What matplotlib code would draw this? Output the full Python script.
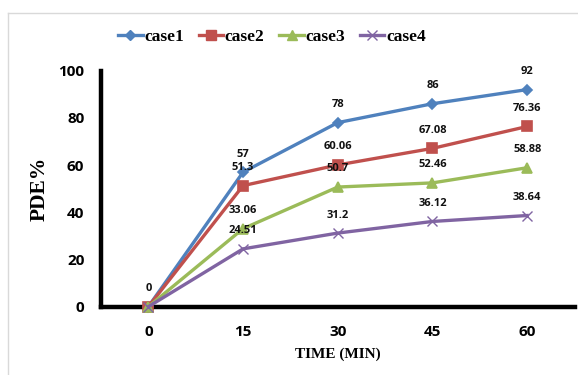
import matplotlib
matplotlib.use("Agg")
import matplotlib.pyplot as plt
from matplotlib.lines import Line2D

times = ["0", "15", "30", "45", "60"]
case1 = [0, 57, 78, 86, 92]
case2 = [0, 51.3, 60.06, 67.08, 76.36]
case3 = [0, 33.06, 50.7, 52.46, 58.88]
case4 = [0, 24.51, 31.2, 36.12, 38.64]
series_names = ["case1", "case2", "case3", "case4"]
yticks = [0, 20, 40, 60, 80, 100]

colors = ["#4F81BD", "#C0504D", "#9BBB59", "#8064A2"]
markers = ["D", "s", "^", "x"]
msizes = [5, 7, 7, 7]
SANS = "Open Sans"

fig = plt.figure(figsize=(5.78, 3.75), dpi=100)
ax = fig.add_axes([101/578, 1 - 306.7/375, (574.5 - 101)/578, (306.7 - 70.7)/375])

x = list(range(len(times)))
for vals, name, c, m, ms in zip([case1, case2, case3, case4], series_names, colors, markers, msizes):
    ax.plot(x, vals, color=c, lw=2.4, marker=m, markersize=ms, label=name,
            markeredgecolor=c, markerfacecolor=c, markeredgewidth=1.2 if m != "x" else 1.0,
            clip_on=False, zorder=3)

def fmt(v):
    return ("%g" % v)

for vals in [case1, case2, case3, case4]:
    for i, v in enumerate(vals):
        if i == 0 and vals is not case1:
            continue
        ax.annotate(fmt(v), (i, v), xytext=(0, 13), textcoords="offset points",
                    ha="center", va="center", fontsize=8, fontweight="bold",
                    family=SANS, color="#111111", zorder=4)

ax.set_xlim(-0.5, 4.5)
ax.set_ylim(0, 100)
ax.set_xticks(x)
ax.set_xticklabels(times)
ax.set_yticks(yticks)
ax.tick_params(length=0, labelsize=11)
for lab in ax.get_xticklabels() + ax.get_yticklabels():
    lab.set_fontweight("bold")
    lab.set_family(SANS)
ax.tick_params(axis="x", pad=13)
ax.tick_params(axis="y", pad=12)

for s in ["top", "right"]:
    ax.spines[s].set_visible(False)
for s in ["left", "bottom"]:
    ax.spines[s].set_linewidth(3.2)
    ax.spines[s].set_color("black")

ax.set_ylabel("PDE%", family="Liberation Serif", fontweight="bold", fontsize=15.5, labelpad=6)
ax.set_xlabel("TIME (MIN)", family="Liberation Serif", fontweight="bold", fontsize=11, labelpad=6)

handles = [Line2D([0], [0], color=c, lw=2.4, marker=m, markersize=ms, markeredgecolor=c, markerfacecolor=c)
           for c, m, ms in zip(colors, markers, msizes)]
fig.legend(handles, series_names, loc="center", bbox_to_anchor=(272/578, 1 - 37/375), ncol=4,
           frameon=False, prop={"family": "Liberation Serif", "weight": "bold", "size": 12.5},
           handlelength=1.4, handletextpad=0.1, columnspacing=0.85)

fig.add_artist(Line2D([8/578, 1], [1 - 13/375, 1 - 13/375], color="#d9d9d9", lw=1, transform=fig.transFigure))
fig.add_artist(Line2D([8/578, 8/578], [0, 1 - 13/375], color="#d9d9d9", lw=1, transform=fig.transFigure))

fig.savefig("out.png", dpi=100)
